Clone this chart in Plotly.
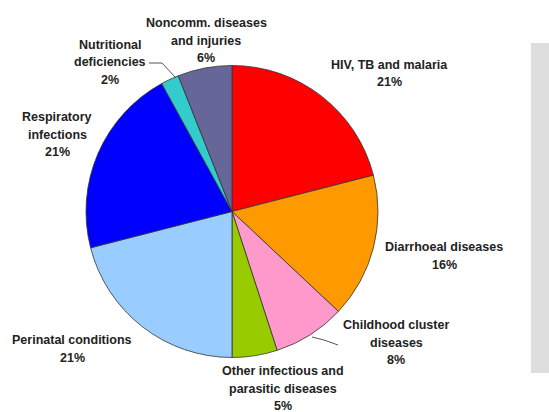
import plotly.graph_objects as go

# Share of deaths by cause (%)
causes = [
    "HIV, TB and malaria",
    "Diarrhoeal diseases",
    "Childhood cluster<br>diseases",
    "Other infectious and<br>parasitic diseases",
    "Perinatal conditions",
    "Respiratory<br>infections",
    "Nutritional<br>deficiencies",
    "Noncomm. diseases<br>and injuries",
]
shares = [21, 16, 8, 5, 21, 21, 2, 6]
colors = ["#FF0000", "#FF9900", "#FF99CC", "#99CC00",
          "#99CCFF", "#0000FF", "#33CCCC", "#666699"]

# Label anchor points (pixel centre of first line) for each cause
label_x = [389, 444, 396, 283, 72, 57, 110, 206]
label_y = [65, 247, 325, 371, 340, 117, 45, 23]
LINE_GAP = 17.5

W, H = 549, 412
cx, cy, r = 232, 211.5, 146


def px(x):
    return x / W


def py(y):
    return 1 - y / H


fig = go.Figure(go.Pie(
    labels=[c.replace("<br>", " ") for c in causes],
    values=shares,
    sort=False,
    direction="clockwise",
    rotation=0,
    marker=dict(colors=colors, line=dict(color="#333333", width=0.8)),
    textinfo="none",
    hoverinfo="label+percent",
    showlegend=False,
    domain=dict(x=[px(cx - r), px(cx + r)], y=[py(cy + r), py(cy - r)]),
))

font = dict(family="Liberation Sans, Arial, sans-serif", size=12.5,
            color="#222222", weight="bold")
annotations = []
for name, val, x0, y0 in zip(causes, shares, label_x, label_y):
    lines = name.split("<br>") + [f"{val}%"]
    for i, line in enumerate(lines):
        annotations.append(dict(
            x=px(x0), y=py(y0 + i * LINE_GAP), xref="paper", yref="paper",
            text=line, showarrow=False, xanchor="center", yanchor="middle",
            font=font,
        ))

# Leader lines for the two smallest labelled slices
leaders = [
    [(149, 63), (162, 63), (176, 78)],
    [(338, 345), (324, 340), (312, 337)],
]
shapes = []
for pts in leaders:
    path = "M " + " L ".join(f"{px(x)},{py(y)}" for x, y in pts)
    shapes.append(dict(type="path", path=path, xref="paper", yref="paper",
                       line=dict(color="#555555", width=1)))

# Grey side panel
shapes.append(dict(type="rect", xref="paper", yref="paper",
                   x0=px(531), x1=px(552), y0=py(373), y1=py(43),
                   fillcolor="#DEDEDE", line=dict(width=0), layer="below"))

fig.update_layout(
    width=W, height=H,
    margin=dict(l=0, r=0, t=0, b=0),
    paper_bgcolor="white",
    plot_bgcolor="white",
    annotations=annotations,
    shapes=shapes,
)

fig.write_html("out.html")
